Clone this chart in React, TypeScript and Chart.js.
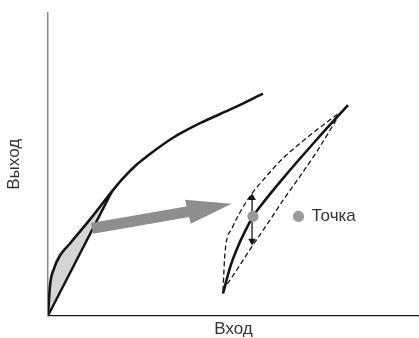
import { useEffect, useRef } from "react";
import { Chart, registerables } from "chart.js";

Chart.register(...registerables);

// Axis titles and label
const xTitle = "Вход";
const yTitle = "Выход";
const pointLabel = "Точка";

// Main characteristic curve
const curveX = [0, 0.54, 1.62, 3.23, 5.93, 11.32, 17.25, 19.95, 23.99, 26.68, 33.69, 40.97, 49.87, 57.95];
const curveY = [0, 9.93, 15.56, 19.87, 23.84, 31.79, 41.06, 45.03, 50.0, 52.65, 58.77, 63.58, 68.54, 73.34];

// Straight chord from origin
const chordX = [0, 17.25];
const chordY = [0, 41.06];

// Zoomed-in loop: solid centre curve
const loopX = [47.17, 49.06, 51.21, 53.37, 55.26, 58.49, 63.34, 72.51, 80.86];
const loopY = [7.28, 15.89, 22.85, 28.48, 32.78, 38.08, 45.36, 58.28, 69.54];

// Dashed upper boundary
const upperX = [47.17, 47.71, 49.6, 51.75, 54.99, 57.68, 63.34, 70.62, 78.71];
const upperY = [8.28, 20.86, 28.81, 34.11, 40.4, 44.37, 51.99, 59.6, 67.22];

// Dashed lower boundary
const lowerX = [47.17, 50.94, 54.99, 59.03, 63.34, 67.92, 72.51, 76.82, 78.71];
const lowerY = [8.28, 15.23, 22.85, 30.13, 38.08, 46.03, 54.3, 62.91, 66.89];

// Big gray arrow (shaft and head)
const shaftX = [11.86, 38.27];
const shaftY = [28.8, 34.44];
const headX = [36.93, 49.51, 38.46];
const headY = [38.31, 36.99, 30.36];

// Vertical double arrow
const dArrowX = [55.0, 55.0];
const dArrowY = [38.94, 24.64];

// Gray points
const pointX = [55.26];
const pointY = [32.78];
const legendX = [67.52];
const legendY = [32.78];

const pts = (xs: number[], ys: number[]) => xs.map((x, i) => ({ x, y: ys[i] }));

const FONT = '"Liberation Sans", Arial, sans-serif';
const TEXT = "#333333";
const INK = "#141414";
const GRAY = "#8e8e8e";

export default function App() {
  const ref = useRef<HTMLCanvasElement | null>(null);

  useEffect(() => {
    document.body.style.margin = "0";
    if (!ref.current) return;

    const labelPlugin = {
      id: "pointLabel",
      afterDatasetsDraw(chart: any) {
        const idx = chart.data.datasets.findIndex((d: any) => d.label === pointLabel);
        if (idx < 0) return;
        const el = chart.getDatasetMeta(idx).data[0];
        if (!el) return;
        const ctx = chart.ctx;
        ctx.save();
        ctx.font = `17px ${FONT}`;
        ctx.fillStyle = TEXT;
        ctx.textBaseline = "middle";
        ctx.textAlign = "left";
        ctx.fillText(pointLabel, el.x + 13, el.y);
        ctx.restore();
      },
    };

    const line = (extra: any) => ({
      showLine: true,
      fill: false,
      pointRadius: 0,
      pointHoverRadius: 0,
      borderColor: INK,
      borderWidth: 2.5,
      tension: 0,
      ...extra,
    });

    const chart = new Chart(ref.current, {
      type: "scatter",
      data: {
        datasets: [
          line({
            label: "curve",
            data: pts(curveX, curveY),
            cubicInterpolationMode: "monotone",
            fill: 1,
            backgroundColor: "#d5d5d5",
            borderWidth: 2.6,
            order: 6,
          }),
          line({ label: "chord", data: pts(chordX, chordY), borderWidth: 2.4, order: 5 }),
          line({
            label: "loop",
            data: pts(loopX, loopY),
            cubicInterpolationMode: "monotone",
            borderWidth: 2.6,
            order: 4,
          }),
          line({
            label: "upper",
            data: pts(upperX, upperY),
            cubicInterpolationMode: "monotone",
            borderWidth: 1.3,
            borderDash: [5, 3],
            order: 4,
          }),
          line({
            label: "lower",
            data: pts(lowerX, lowerY),
            cubicInterpolationMode: "monotone",
            borderWidth: 1.3,
            borderDash: [5, 3],
            order: 4,
          }),
          line({
            label: "shaft",
            data: pts(shaftX, shaftY),
            borderColor: GRAY,
            borderWidth: 11,
            borderCapStyle: "butt",
            order: 2,
          }),
          line({
            label: "head",
            data: pts(headX, headY),
            borderColor: "rgba(0,0,0,0)",
            borderWidth: 0,
            backgroundColor: GRAY,
            fill: "shape",
            order: 2,
          }),
          line({
            label: "dArrow",
            data: pts(dArrowX, dArrowY),
            borderWidth: 1.3,
            pointStyle: "triangle",
            pointRadius: 4.4,
            pointRotation: [0, 180],
            pointBackgroundColor: INK,
            pointBorderWidth: 0,
            order: 3,
          }),
          {
            label: "dot",
            data: pts(pointX, pointY),
            showLine: false,
            fill: false,
            pointRadius: 5.6,
            pointBackgroundColor: "#999999",
            pointBorderWidth: 0,
            order: 1,
          },
          {
            label: pointLabel,
            data: pts(legendX, legendY),
            showLine: false,
            fill: false,
            pointRadius: 5.6,
            pointBackgroundColor: "#999999",
            pointBorderWidth: 0,
            order: 1,
          },
        ],
      },
      options: {
        animation: false,
        responsive: true,
        maintainAspectRatio: false,
        events: [],
        layout: { autoPadding: false, padding: { top: 13, right: 0, left: 0, bottom: 0 } },
        plugins: {
          legend: { display: false },
          tooltip: { enabled: false },
          title: { display: false },
        },
        scales: {
          x: {
            type: "linear",
            min: 0,
            max: 100,
            ticks: { display: false },
            grid: { display: false, drawTicks: false },
            border: { display: true, color: "#1a1a1a", width: 1.3 },
            title: {
              display: true,
              text: xTitle,
              color: TEXT,
              font: { family: FONT, size: 17 },
              padding: { top: 4, bottom: -2 },
            },
          },
          y: {
            type: "linear",
            min: 0,
            max: 100,
            ticks: { display: false },
            grid: { display: false, drawTicks: false },
            border: { display: true, color: "#8a8a8a", width: 1.5 },
            title: {
              display: true,
              text: yTitle,
              color: TEXT,
              font: { family: FONT, size: 17 },
              padding: { top: 3.8, bottom: 23.8 },
            },
          },
        },
      },
      plugins: [labelPlugin],
    });

    return () => chart.destroy();
  }, []);

  return (
    <div style={{ position: "relative", width: 419, height: 338 }}>
      <canvas ref={ref} />
    </div>
  );
}
